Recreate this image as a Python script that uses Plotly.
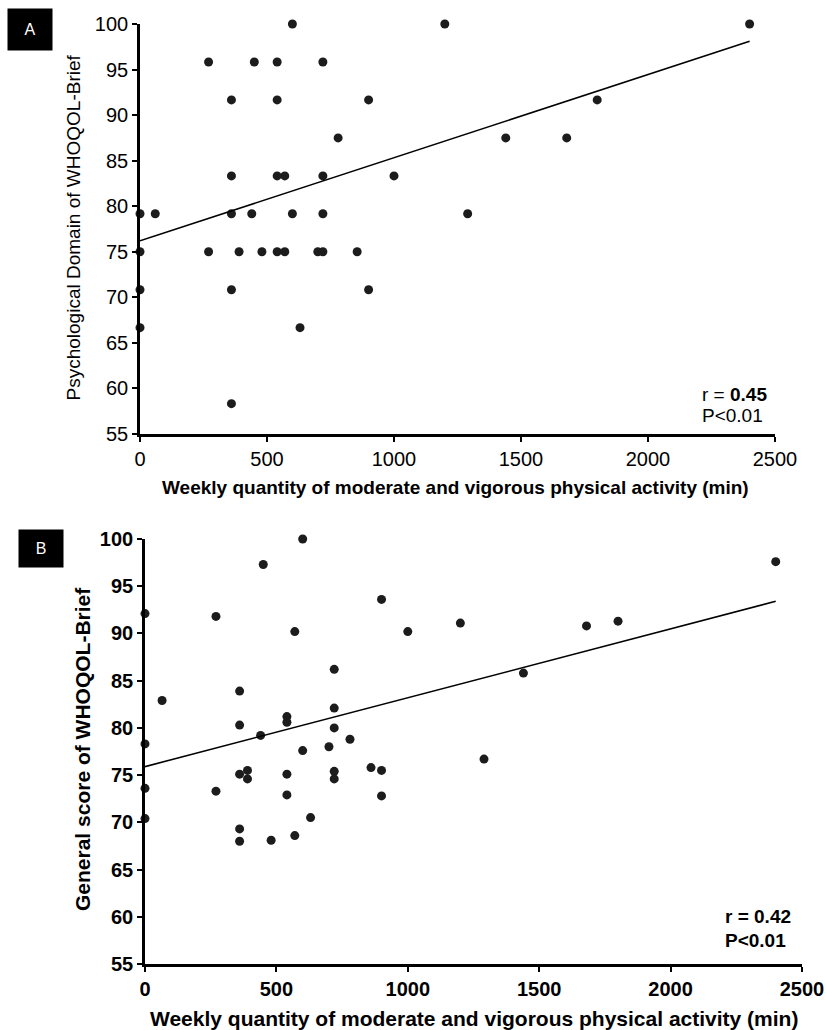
import plotly.graph_objects as go

# ---------------- data ----------------
a_minutes = [0, 0, 0, 0, 60, 270, 270, 360, 360, 360, 360, 360, 390, 440, 450, 480,
             540, 540, 540, 540, 570, 570, 600, 600, 630, 700, 720, 720, 720, 720,
             780, 855, 900, 900, 1000, 1200, 1290, 1440, 1680, 1800, 2400]
a_psych = [79.17, 75, 70.83, 66.67, 79.17, 95.83, 75, 91.67, 83.33, 79.17, 70.83, 58.33,
           75, 79.17, 95.83, 75, 95.83, 91.67, 83.33, 75, 83.33, 75, 100, 79.17, 66.67,
           75, 95.83, 83.33, 79.17, 75, 87.5, 75, 91.67, 70.83, 83.33, 100, 79.17, 87.5,
           87.5, 91.67, 100]
a_fit_x = [0, 2400]
a_fit_y = [76.2, 98.1]

b_minutes = [0, 0, 0, 0, 65, 270, 270, 360, 360, 360, 360, 360, 390, 390, 440, 450, 480,
             540, 540, 540, 540, 570, 570, 600, 600, 630, 700, 720, 720, 720, 720, 720,
             780, 860, 900, 900, 900, 1000, 1200, 1290, 1440, 1680, 1800, 2400]
b_general = [92.1, 78.3, 73.6, 70.4, 82.9, 91.8, 73.3, 83.9, 80.3, 75.1, 69.3, 68.0,
             75.5, 74.6, 79.2, 97.3, 68.1, 81.2, 80.6, 75.1, 72.9, 90.2, 68.6, 100, 77.6,
             70.5, 78.0, 86.2, 82.1, 80.0, 75.4, 74.6, 78.8, 75.8, 93.6, 75.5, 72.8, 90.2,
             91.1, 76.7, 85.8, 90.8, 91.3, 97.6]
b_fit_x = [0, 2400]
b_fit_y = [75.9, 93.4]

x_ticks = [0, 500, 1000, 1500, 2000, 2500]
y_ticks = [55, 60, 65, 70, 75, 80, 85, 90, 95, 100]

x_title = "Weekly quantity of moderate and vigorous physical activity (min)"
a_y_title = "Psychological Domain of WHOQOL-Brief"
b_y_title = "General score of WHOQOL-Brief"
a_stats = ["r = <b>0.45</b>", "P&lt;0.01"]
b_stats = ["<b>r = 0.42</b>", "<b>P&lt;0.01</b>"]

# ---------------- figure ----------------
W, H = 825, 1030
FONT = "Liberation Sans, Arial, sans-serif"
DOT = "#1c1c1c"

fig = go.Figure()
fig.add_trace(go.Scatter(x=a_minutes, y=a_psych, mode="markers", xaxis="x", yaxis="y",
                         marker=dict(size=9, color=DOT), cliponaxis=False, showlegend=False))
fig.add_trace(go.Scatter(x=a_fit_x, y=a_fit_y, mode="lines", xaxis="x", yaxis="y",
                         line=dict(color="black", width=1.6), showlegend=False))
fig.add_trace(go.Scatter(x=b_minutes, y=b_general, mode="markers", xaxis="x2", yaxis="y2",
                         marker=dict(size=9, color=DOT), cliponaxis=False, showlegend=False))
fig.add_trace(go.Scatter(x=b_fit_x, y=b_fit_y, mode="lines", xaxis="x2", yaxis="y2",
                         line=dict(color="black", width=1.6), showlegend=False))


def ax(domain, rng, ticks, anchor, tick_font):
    return dict(domain=domain, range=rng, tickvals=ticks, anchor=anchor, automargin=False,
                showline=True, linecolor="black", linewidth=2.6, showgrid=False,
                zeroline=False, ticks="outside", ticklen=5, tickwidth=2, tickcolor="black",
                tickfont=tick_font)


a_tick = dict(family=FONT, size=20, color="black")
b_tick = dict(family=FONT, size=20, color="black", weight="bold")

fig.update_layout(
    width=W, height=H, margin=dict(l=0, r=0, t=0, b=0, autoexpand=False),
    paper_bgcolor="white", plot_bgcolor="white",
    font=dict(family=FONT, color="black"),
    xaxis=ax([140 / W, 775 / W], [0, 2500], x_ticks, "y", a_tick),
    yaxis=ax([1 - 434 / H, 1 - 24 / H], [55, 100], y_ticks, "x", a_tick),
    xaxis2=ax([145 / W, 802 / W], [0, 2500], x_ticks, "y2", b_tick),
    yaxis2=ax([1 - 964 / H, 1 - 539 / H], [55, 100], y_ticks, "x2", b_tick),
)


def paper_text(text, px, py, size, bold=False, angle=0, anchor="center", color="black",
               **kw):
    fig.add_annotation(text=text, x=px / W, y=1 - py / H, xref="paper", yref="paper",
                       showarrow=False, textangle=angle, xanchor=anchor, yanchor="middle",
                       font=dict(family=FONT, size=size, color=color,
                                 weight="bold" if bold else "normal"), **kw)


# panel letters
paper_text("A", 30, 29.5, 16, color="white", bgcolor="black", width=42, height=39)
paper_text("B", 41, 548.5, 16, color="white", bgcolor="black", width=42, height=35)

# axis titles
paper_text(a_y_title, 73, 227.5, 19, angle=-90)
paper_text(x_title, 455.5, 487, 19, bold=True)
paper_text(b_y_title, 82, 749, 21, bold=True, angle=-90)
paper_text(x_title, 474, 1018, 21, bold=True)

# statistics
paper_text(a_stats[0], 700, 394, 19, anchor="left")
paper_text(a_stats[1], 700, 415, 19, anchor="left")
paper_text(b_stats[0], 723, 916, 19, anchor="left")
paper_text(b_stats[1], 723, 940, 19, anchor="left")

fig.write_html("out.html", config={"displayModeBar": False},
               post_script="document.body.style.margin='0';")
